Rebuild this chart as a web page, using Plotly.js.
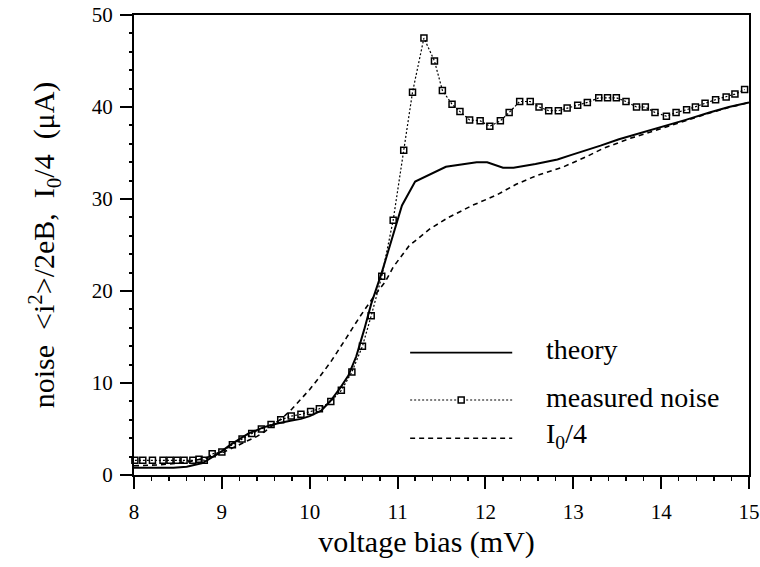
<!DOCTYPE html>
<html>
<head>
<meta charset="utf-8">
<script src="https://cdn.plot.ly/plotly-3.0.1.min.js"></script>
<style>html,body{margin:0;padding:0;background:#fff;}#chart{width:760px;height:567px;}</style>
</head>
<body>
<div id="chart"></div>
<script>
// measured noise (open squares, dotted line)
const measX = [8.01, 8.10, 8.21, 8.33, 8.41, 8.49, 8.57, 8.67, 8.74, 8.80, 8.89, 9.00, 9.12, 9.23, 9.34, 9.45, 9.56, 9.67, 9.79, 9.90, 10.01, 10.11, 10.24, 10.36, 10.48, 10.60, 10.70, 10.82, 10.95, 11.07, 11.17, 11.30, 11.42, 11.51, 11.62, 11.71, 11.82, 11.94, 12.05, 12.17, 12.27, 12.39, 12.51, 12.61, 12.72, 12.83, 12.93, 13.05, 13.16, 13.29, 13.39, 13.49, 13.60, 13.72, 13.82, 13.93, 14.06, 14.17, 14.29, 14.39, 14.50, 14.62, 14.74, 14.84, 14.95];
const measY = [1.6, 1.6, 1.6, 1.6, 1.6, 1.6, 1.6, 1.6, 1.7, 1.6, 2.3, 2.5, 3.3, 3.9, 4.5, 5.0, 5.5, 6.0, 6.4, 6.6, 6.9, 7.2, 8.0, 9.2, 11.2, 14.0, 17.3, 21.6, 27.7, 35.3, 41.6, 47.5, 45.0, 41.8, 40.3, 39.5, 38.6, 38.5, 37.9, 38.5, 39.4, 40.6, 40.6, 40.0, 39.6, 39.6, 39.9, 40.2, 40.5, 41.0, 41.0, 41.0, 40.6, 40.0, 40.0, 39.4, 39.0, 39.4, 39.7, 40.0, 40.4, 40.8, 41.1, 41.4, 41.9];

// theory (solid)
const theoryX = [8.0, 8.2, 8.45, 8.6, 8.78, 8.9, 9.0, 9.1, 9.2, 9.3, 9.48, 9.63, 9.78, 9.9, 10.0, 10.13, 10.24, 10.35, 10.44, 10.53, 10.62, 10.7, 10.82, 10.93, 11.05, 11.2, 11.55, 11.9, 12.02, 12.2, 12.32, 12.57, 12.82, 12.98, 13.15, 13.31, 13.52, 13.74, 14.05, 14.28, 14.55, 14.77, 15.0];
const theoryY = [0.8, 0.8, 0.8, 0.9, 1.3, 2.0, 2.6, 3.3, 3.9, 4.5, 5.2, 5.6, 5.9, 6.1, 6.4, 7.0, 8.1, 9.5, 10.8, 12.9, 15.8, 18.6, 22.0, 25.6, 29.3, 31.9, 33.5, 34.0, 34.0, 33.4, 33.4, 33.8, 34.3, 34.8, 35.3, 35.8, 36.5, 37.1, 37.9, 38.6, 39.4, 40.0, 40.5];

// I0/4 (dashed)
const iqX = [8.0, 8.3, 8.6, 8.8, 9.0, 9.2, 9.4, 9.5, 9.6, 9.7, 9.8, 9.9, 10.0, 10.1, 10.24, 10.41, 10.57, 10.73, 10.86, 10.95, 11.13, 11.36, 11.58, 11.85, 12.12, 12.35, 12.57, 12.89, 13.15, 13.34, 13.65, 13.92, 14.2, 14.5, 14.75, 15.0];
const iqY = [1.0, 1.1, 1.4, 1.8, 2.4, 3.3, 4.2, 4.8, 5.5, 6.3, 7.2, 8.2, 9.3, 10.5, 12.3, 14.8, 17.2, 19.4, 21.0, 22.6, 24.9, 26.7, 28.0, 29.3, 30.4, 31.6, 32.5, 33.5, 34.6, 35.5, 36.6, 37.4, 38.3, 39.2, 39.9, 40.5];

const xTickVals = [8, 9, 10, 11, 12, 13, 14, 15];
const yTickVals = [0, 10, 20, 30, 40, 50];
const legendLabels = ["theory", "measured noise", "I<sub>0</sub>/4"];

const FONT = "Liberation Serif";

const traces = [
  {x: theoryX, y: theoryY, mode: "lines", name: legendLabels[0], showlegend: false,
   line: {color: "#000", width: 2}},
  {x: iqX, y: iqY, mode: "lines", name: legendLabels[2], showlegend: false,
   line: {color: "#000", width: 1.6, dash: "5px,4px"}},
  {x: measX, y: measY, mode: "lines+markers", name: legendLabels[1], showlegend: false,
   cliponaxis: false,
   line: {color: "#000", width: 1.2, dash: "2px,2px"},
   marker: {symbol: "square-open", size: 6, color: "#000", line: {width: 1.5, color: "#000"}}}
];

// manual legend (long line samples like the original)
const legY = [0.266, 0.163, 0.080];
const legX0 = 0.449, legX1 = 0.615, legTextX = 0.667;
const shapes = [
  {type: "line", xref: "paper", yref: "paper", x0: legX0, x1: legX1, y0: legY[0], y1: legY[0], line: {color: "#000", width: 1.8}},
  {type: "line", xref: "paper", yref: "paper", x0: legX0, x1: legX1, y0: legY[1], y1: legY[1], line: {color: "#000", width: 1.2, dash: "2px,2px"}},
  {type: "line", xref: "paper", yref: "paper", x0: legX0, x1: legX1, y0: legY[2], y1: legY[2], line: {color: "#000", width: 1.6, dash: "5px,4px"}},
  {type: "rect", xref: "paper", yref: "paper", xsizemode: "pixel", ysizemode: "pixel",
   xanchor: (legX0 + legX1) / 2, yanchor: legY[1], x0: -3, x1: 3, y0: -3, y1: 3,
   fillcolor: "#fff", line: {color: "#000", width: 1.5}}
];
const annotations = legendLabels.map((t, i) => ({
  text: t, xref: "paper", yref: "paper", x: legTextX, y: legY[i] + 0.006,
  xanchor: "left", yanchor: "middle", showarrow: false,
  font: {family: FONT, size: 28, color: "#000"}
}));

const layout = {
  width: 760, height: 567,
  margin: {l: 134, r: 11, t: 15, b: 92},
  paper_bgcolor: "#fff", plot_bgcolor: "#fff",
  font: {family: FONT, color: "#000"},
  xaxis: {
    range: [8, 15], tickvals: xTickVals, ticktext: xTickVals.map(String),
    showgrid: false, zeroline: false, showline: true, mirror: true,
    linecolor: "#000", linewidth: 2,
    ticks: "outside", ticklen: 12, tickwidth: 2, tickcolor: "#000",
    ticklabelstandoff: 5,
    minor: {dtick: 0.2, tick0: 8, ticks: "outside", ticklen: 4, tickwidth: 1.5, tickcolor: "#000", showgrid: false},
    tickfont: {family: FONT, size: 21, color: "#000"},
    title: {text: "voltage bias (mV)&nbsp;&nbsp;&nbsp;&nbsp;", font: {family: FONT, size: 30, color: "#000"}, standoff: 8}
  },
  yaxis: {
    range: [0, 50], tickvals: yTickVals, ticktext: yTickVals.map(String),
    showgrid: false, zeroline: false, showline: true, mirror: true,
    linecolor: "#000", linewidth: 2,
    ticks: "outside", ticklen: 12, tickwidth: 2, tickcolor: "#000",
    ticklabelstandoff: 3,
    minor: {dtick: 2, tick0: 0, ticks: "outside", ticklen: 3, tickwidth: 2, tickcolor: "#000", showgrid: false},
    tickfont: {family: FONT, size: 21, color: "#000"},
    title: {text: "noise&nbsp;&nbsp;&lt;i<sup>2</sup>&gt;/2eB,&nbsp;&nbsp;I<sub>0</sub>/4&nbsp;&nbsp;(μA)",
            font: {family: FONT, size: 30, color: "#000"}, standoff: 28}
  },
  shapes: shapes,
  annotations: annotations,
  showlegend: false
};

Plotly.newPlot("chart", traces, layout, {staticPlot: true, displayModeBar: false});
</script>
</body>
</html>
